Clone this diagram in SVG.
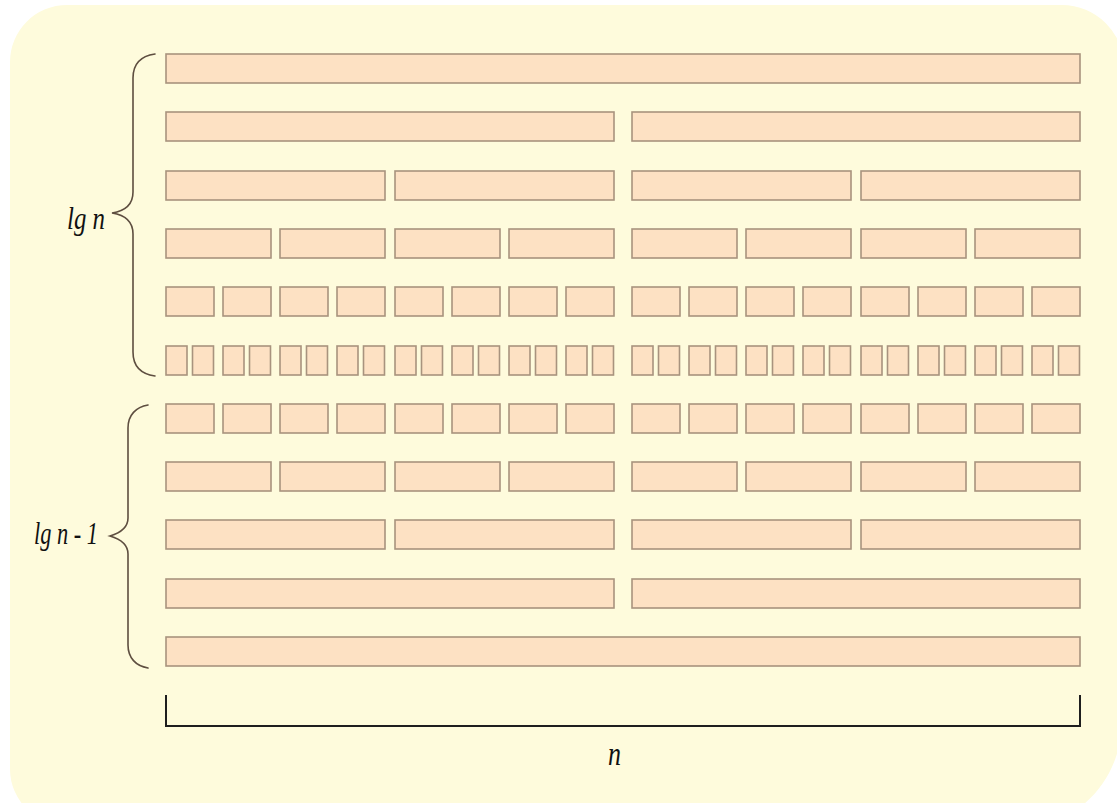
<svg xmlns="http://www.w3.org/2000/svg" width="1117" height="803" viewBox="0 0 1117 803">
<style>
.b{fill:#FDE1C3;stroke:#A8937E;stroke-width:1.6}
.br{fill:none;stroke:#5E4E40;stroke-width:1.6;stroke-linecap:round}
.lbl{font-family:"Liberation Serif","Times New Roman","DejaVu Serif",serif;font-style:italic;fill:#111}
</style>
<rect width="1117" height="803" fill="#FFFFFF"/>
<path id="bg" d="M10 62 A57 57 0 0 1 67 5 H1062 A62 62 0 0 1 1124 67 V700 C1124 760 1105 800 1050 825 H66 A56 56 0 0 1 10 770 Z" fill="#FEFBDC"/>
<g id="row1">
<rect class="b" x="166" y="54" width="914" height="29"/>
</g>
<g id="row2">
<rect class="b" x="166" y="112" width="448" height="29"/>
<rect class="b" x="632" y="112" width="448" height="29"/>
</g>
<g id="row3">
<rect class="b" x="166" y="171" width="219" height="29"/>
<rect class="b" x="395" y="171" width="219" height="29"/>
<rect class="b" x="632" y="171" width="219" height="29"/>
<rect class="b" x="861" y="171" width="219" height="29"/>
</g>
<g id="row4">
<rect class="b" x="166" y="229" width="105" height="29"/>
<rect class="b" x="280" y="229" width="105" height="29"/>
<rect class="b" x="395" y="229" width="105" height="29"/>
<rect class="b" x="509" y="229" width="105" height="29"/>
<rect class="b" x="632" y="229" width="105" height="29"/>
<rect class="b" x="746" y="229" width="105" height="29"/>
<rect class="b" x="861" y="229" width="105" height="29"/>
<rect class="b" x="975" y="229" width="105" height="29"/>
</g>
<g id="row5">
<rect class="b" x="166" y="287" width="48" height="29"/>
<rect class="b" x="223" y="287" width="48" height="29"/>
<rect class="b" x="280" y="287" width="48" height="29"/>
<rect class="b" x="337" y="287" width="48" height="29"/>
<rect class="b" x="395" y="287" width="48" height="29"/>
<rect class="b" x="452" y="287" width="48" height="29"/>
<rect class="b" x="509" y="287" width="48" height="29"/>
<rect class="b" x="566" y="287" width="48" height="29"/>
<rect class="b" x="632" y="287" width="48" height="29"/>
<rect class="b" x="689" y="287" width="48" height="29"/>
<rect class="b" x="746" y="287" width="48" height="29"/>
<rect class="b" x="803" y="287" width="48" height="29"/>
<rect class="b" x="861" y="287" width="48" height="29"/>
<rect class="b" x="918" y="287" width="48" height="29"/>
<rect class="b" x="975" y="287" width="48" height="29"/>
<rect class="b" x="1032" y="287" width="48" height="29"/>
</g>
<g id="row6">
<rect class="b" x="166" y="346" width="21" height="29"/>
<rect class="b" x="192.5" y="346" width="21" height="29"/>
<rect class="b" x="223" y="346" width="21" height="29"/>
<rect class="b" x="249.5" y="346" width="21" height="29"/>
<rect class="b" x="280" y="346" width="21" height="29"/>
<rect class="b" x="306.5" y="346" width="21" height="29"/>
<rect class="b" x="337" y="346" width="21" height="29"/>
<rect class="b" x="363.5" y="346" width="21" height="29"/>
<rect class="b" x="395" y="346" width="21" height="29"/>
<rect class="b" x="421.5" y="346" width="21" height="29"/>
<rect class="b" x="452" y="346" width="21" height="29"/>
<rect class="b" x="478.5" y="346" width="21" height="29"/>
<rect class="b" x="509" y="346" width="21" height="29"/>
<rect class="b" x="535.5" y="346" width="21" height="29"/>
<rect class="b" x="566" y="346" width="21" height="29"/>
<rect class="b" x="592.5" y="346" width="21" height="29"/>
<rect class="b" x="632" y="346" width="21" height="29"/>
<rect class="b" x="658.5" y="346" width="21" height="29"/>
<rect class="b" x="689" y="346" width="21" height="29"/>
<rect class="b" x="715.5" y="346" width="21" height="29"/>
<rect class="b" x="746" y="346" width="21" height="29"/>
<rect class="b" x="772.5" y="346" width="21" height="29"/>
<rect class="b" x="803" y="346" width="21" height="29"/>
<rect class="b" x="829.5" y="346" width="21" height="29"/>
<rect class="b" x="861" y="346" width="21" height="29"/>
<rect class="b" x="887.5" y="346" width="21" height="29"/>
<rect class="b" x="918" y="346" width="21" height="29"/>
<rect class="b" x="944.5" y="346" width="21" height="29"/>
<rect class="b" x="975" y="346" width="21" height="29"/>
<rect class="b" x="1001.5" y="346" width="21" height="29"/>
<rect class="b" x="1032" y="346" width="21" height="29"/>
<rect class="b" x="1058.5" y="346" width="21" height="29"/>
</g>
<g id="row7">
<rect class="b" x="166" y="404" width="48" height="29"/>
<rect class="b" x="223" y="404" width="48" height="29"/>
<rect class="b" x="280" y="404" width="48" height="29"/>
<rect class="b" x="337" y="404" width="48" height="29"/>
<rect class="b" x="395" y="404" width="48" height="29"/>
<rect class="b" x="452" y="404" width="48" height="29"/>
<rect class="b" x="509" y="404" width="48" height="29"/>
<rect class="b" x="566" y="404" width="48" height="29"/>
<rect class="b" x="632" y="404" width="48" height="29"/>
<rect class="b" x="689" y="404" width="48" height="29"/>
<rect class="b" x="746" y="404" width="48" height="29"/>
<rect class="b" x="803" y="404" width="48" height="29"/>
<rect class="b" x="861" y="404" width="48" height="29"/>
<rect class="b" x="918" y="404" width="48" height="29"/>
<rect class="b" x="975" y="404" width="48" height="29"/>
<rect class="b" x="1032" y="404" width="48" height="29"/>
</g>
<g id="row8">
<rect class="b" x="166" y="462" width="105" height="29"/>
<rect class="b" x="280" y="462" width="105" height="29"/>
<rect class="b" x="395" y="462" width="105" height="29"/>
<rect class="b" x="509" y="462" width="105" height="29"/>
<rect class="b" x="632" y="462" width="105" height="29"/>
<rect class="b" x="746" y="462" width="105" height="29"/>
<rect class="b" x="861" y="462" width="105" height="29"/>
<rect class="b" x="975" y="462" width="105" height="29"/>
</g>
<g id="row9">
<rect class="b" x="166" y="520" width="219" height="29"/>
<rect class="b" x="395" y="520" width="219" height="29"/>
<rect class="b" x="632" y="520" width="219" height="29"/>
<rect class="b" x="861" y="520" width="219" height="29"/>
</g>
<g id="row10">
<rect class="b" x="166" y="579" width="448" height="29"/>
<rect class="b" x="632" y="579" width="448" height="29"/>
</g>
<g id="row11">
<rect class="b" x="166" y="637" width="914" height="29"/>
</g>
<g id="connectors">
<path class="br" d="M155 54 C141 56 133 64 133 78 V192 C133 204 125 211 112 213 C125 215 133 222 133 234 V352 C133 366 141 374 155 376"/>
<path class="br" d="M148 405 C136 407 128 415 128 428 V518 C128 528 120 533 110 536 C120 539 128 544 128 554 V645 C128 658 136 666 148 668"/>
<path d="M166 695 V726 H1080 V695" fill="none" stroke="#1E1E1E" stroke-width="2"/>
</g>
<g id="labels">
<text class="lbl" x="67" y="229" font-size="31" textLength="38" lengthAdjust="spacingAndGlyphs">lg n</text>
<text class="lbl" x="34" y="544" font-size="31" textLength="64" lengthAdjust="spacingAndGlyphs">lg n - 1</text>
<text class="lbl" x="608" y="765" font-size="34" textLength="13" lengthAdjust="spacingAndGlyphs">n</text>
</g>
</svg>
